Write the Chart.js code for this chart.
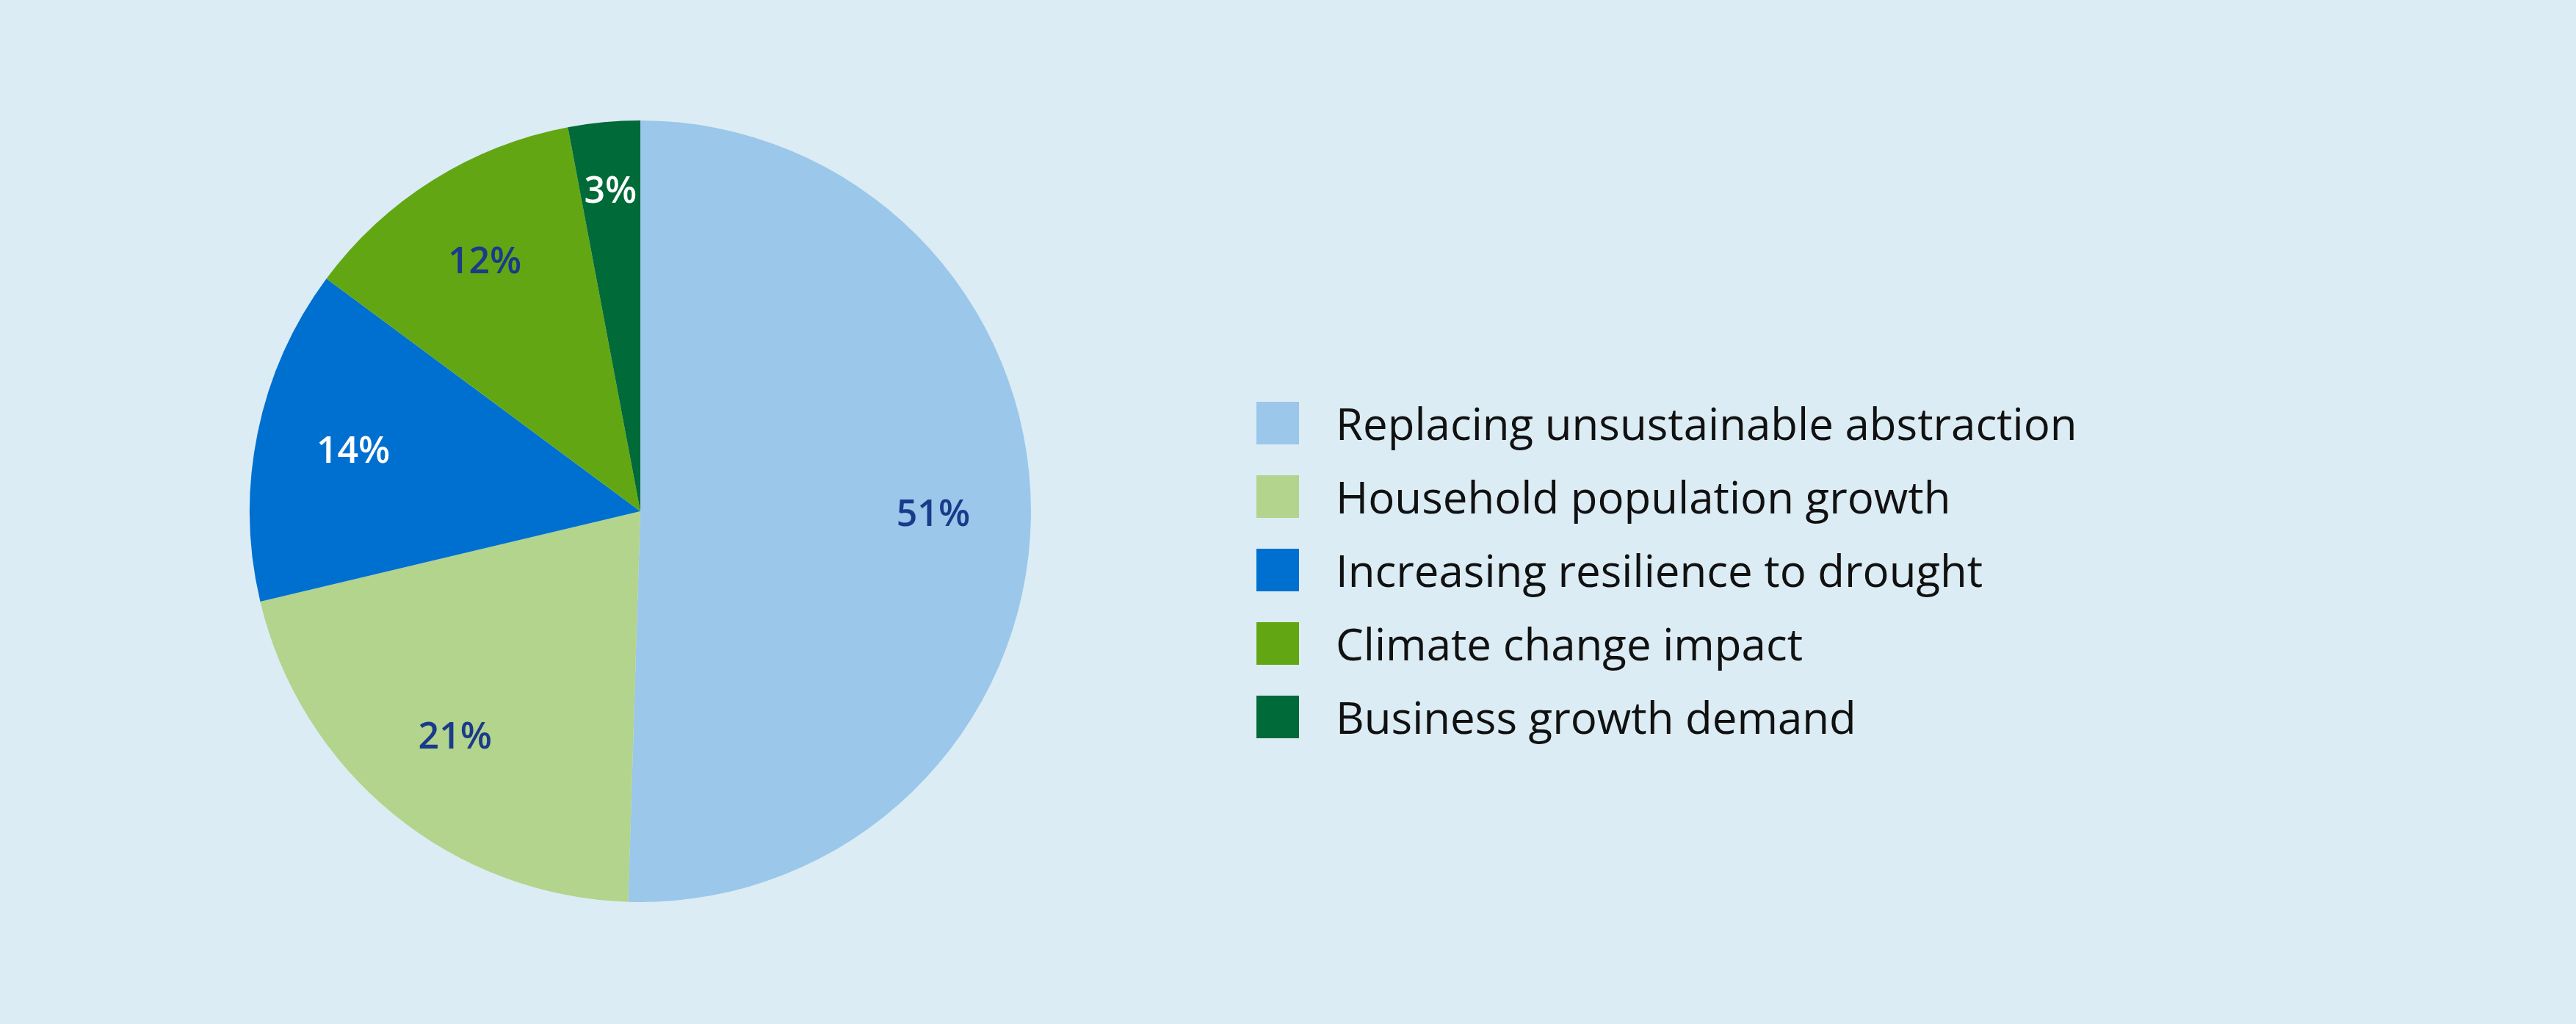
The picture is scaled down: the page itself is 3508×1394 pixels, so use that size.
<!DOCTYPE html>
<html>
<head>
<meta charset="utf-8">
<script src="https://cdn.jsdelivr.net/npm/chart.js@4"></script>
<style>
  html, body { margin: 0; padding: 0; background: #dbecf4; width: 3508px; height: 1394px; overflow: hidden; font-family: "Open Sans", sans-serif; }
  #pieBox { position: absolute; left: 330px; top: 154px; width: 1084px; height: 1084px; }
  #legend { position: absolute; left: 1711px; top: 526px; }
  .item { display: flex; align-items: center; height: 100px; font-size: 60px; color: #111; }
  .box { width: 58px; height: 58px; margin-right: 50px; }
</style>
</head>
<body>
<div id="pieBox"><canvas id="pie"></canvas></div>
<div id="legend"></div>
<script>
  // 데이터
  const categories = [
    "Replacing unsustainable abstraction",
    "Household population growth",
    "Increasing resilience to drought",
    "Climate change impact",
    "Business growth demand"
  ];
  const values = [51, 21, 14, 12, 3];
  const colors = ["#9bc7ea", "#b2d48c", "#0070d0", "#62a713", "#006a38"];
  const labelColors = ["#1a3a8a", "#1a3a8a", "#ffffff", "#1a3a8a", "#ffffff"];

  // 조각 위에 퍼센트 표시
  const sliceLabels = {
    id: "sliceLabels",
    afterDatasetsDraw(chart) {
      const ctx = chart.ctx;
      const meta = chart.getDatasetMeta(0);
      ctx.save();
      ctx.font = "600 50px 'Open Sans', sans-serif";
      ctx.textAlign = "center";
      ctx.textBaseline = "middle";
      meta.data.forEach((arc, i) => {
        const mid = (arc.startAngle + arc.endAngle) / 2;
        const r = i === 4 ? arc.outerRadius * 0.82 : arc.outerRadius * 0.75;
        ctx.fillStyle = labelColors[i];
        ctx.fillText(values[i] + "%", arc.x + Math.cos(mid) * r, arc.y + Math.sin(mid) * r);
      });
      ctx.restore();
    }
  };

  new Chart(document.getElementById("pie"), {
    type: "pie",
    data: {
      labels: categories,
      datasets: [{ data: values, backgroundColor: colors, borderWidth: 0 }]
    },
    options: {
      responsive: true,
      maintainAspectRatio: true,
      animation: false,
      layout: { padding: 10 },
      plugins: { legend: { display: false }, tooltip: { enabled: false } }
    },
    plugins: [sliceLabels]
  });

  // HTML 범례
  const legend = document.getElementById("legend");
  categories.forEach((c, i) => {
    const row = document.createElement("div");
    row.className = "item";
    row.innerHTML = '<div class="box" style="background:' + colors[i] + '"></div><span>' + c + '</span>';
    legend.appendChild(row);
  });
</script>
</body>
</html>
